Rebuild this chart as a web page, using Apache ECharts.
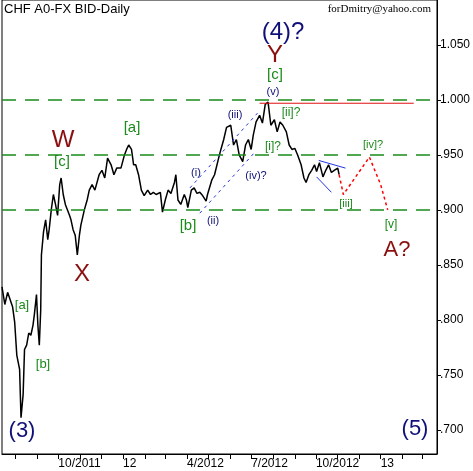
<!DOCTYPE html>
<html><head><meta charset="utf-8">
<script src="https://cdn.jsdelivr.net/npm/echarts@6/dist/echarts.min.js"></script>
<style>html,body{margin:0;padding:0;background:#fff}#c{width:473px;height:471px}</style>
</head><body><div id="c"></div>
<script>
// price path (date, bid)
var dates = ['2011-07-13','2011-07-17','2011-07-21','2011-07-28','2011-07-31','2011-08-03','2011-08-07','2011-08-09','2011-08-12','2011-08-14',
 '2011-08-17','2011-08-20','2011-08-23','2011-08-26','2011-08-28','2011-08-31','2011-09-02','2011-09-04','2011-09-06','2011-09-07',
 '2011-09-10','2011-09-13','2011-09-16','2011-09-18','2011-09-21','2011-09-24','2011-09-27','2011-09-30','2011-10-03','2011-10-05',
 '2011-10-08','2011-10-11','2011-10-14','2011-10-17','2011-10-19','2011-10-22','2011-10-25','2011-10-28','2011-10-31','2011-11-02',
 '2011-11-07','2011-11-11','2011-11-14','2011-11-18','2011-11-22','2011-11-28','2011-12-02','2011-12-06','2011-12-10','2011-12-15',
 '2011-12-19','2011-12-23','2011-12-29','2012-01-03','2012-01-06','2012-01-09','2012-01-13','2012-01-16','2012-01-19','2012-01-23',
 '2012-01-27','2012-01-31','2012-02-05','2012-02-09','2012-02-13','2012-02-17','2012-02-23','2012-02-26','2012-03-01','2012-03-05',
 '2012-03-09','2012-03-14','2012-03-16','2012-03-19','2012-03-23','2012-03-28','2012-03-31','2012-04-02','2012-04-07','2012-04-11',
 '2012-04-15','2012-04-19','2012-04-23','2012-04-28','2012-04-30','2012-05-06','2012-05-10','2012-05-15','2012-05-19','2012-05-23',
 '2012-05-27','2012-06-02','2012-06-06','2012-06-10','2012-06-14','2012-06-19','2012-06-23','2012-06-27','2012-07-01','2012-07-04',
 '2012-07-08','2012-07-13','2012-07-17','2012-07-21','2012-07-25','2012-07-29','2012-08-03','2012-08-07','2012-08-11','2012-08-15',
 '2012-08-20','2012-08-24','2012-08-28','2012-09-01','2012-09-05','2012-09-10','2012-09-14','2012-09-17','2012-09-21','2012-09-25',
 '2012-09-29','2012-10-02','2012-10-06','2012-10-11','2012-10-15','2012-10-19','2012-10-23','2012-10-27','2012-11-01','2012-11-03'];
var prices = [.830,.814,.825,.812,.798,.768,.755,.711,.732,.773,
 .777,.788,.786,.795,.805,.823,.795,.777,.809,.859,
 .880,.891,.873,.882,.900,.914,.905,.895,.923,.929,
 .914,.905,.900,.895,.891,.882,.877,.859,.877,.886,
 .900,.909,.918,.923,.918,.932,.936,.929,.947,.941,
 .932,.938,.938,.950,.955,.959,.955,.941,.941,.932,
 .918,.913,.918,.914,.916,.914,.916,.898,.909,.918,
 .915,.925,.932,.909,.905,.914,.909,.902,.918,.920,
 .915,.916,.913,.908,.914,.927,.932,.945,.955,.964,
 .975,.977,.959,.964,.950,.944,.959,.964,.955,.968,
 .980,.986,.979,.996,.998,.977,.982,.971,.980,.977,
 .971,.959,.955,.956,.950,.941,.929,.925,.932,.936,
 .941,.935,.943,.930,.936,.941,.934,.936,.938,.932];

var levels = [1.00, .95, .90];
var yTicks = [.70,.75,.80,.85,.90,.95,1.00,1.05];
var monthTicks = ['2011-08-01','2011-09-01','2011-10-01','2011-11-01','2011-12-01','2012-01-01','2012-02-01','2012-03-01',
 '2012-04-01','2012-05-01','2012-06-01','2012-07-01','2012-08-01','2012-09-01','2012-10-01','2012-11-01','2012-12-01',
 '2013-01-01','2013-02-01','2013-03-01'];
var monthLabels = {'2011-10-01':'10/2011','2012-01-01':'12','2012-04-01':'4/2012','2012-07-01':'7/2012','2012-10-01':'10/2012','2013-01-01':'13'};

var channelUp = [['2012-04-05',.920],['2012-07-10',.988]];
var channelLo = [['2012-04-19',.897],['2012-07-07',.953]];
var triUp = [['2012-10-05',.945],['2012-11-12',.938]];
var triLo = [['2012-10-02',.930],['2012-10-23',.916]];
var topLine = [['2012-07-13',.997],['2013-02-17',.997]];
var forecast = [['2012-11-03',.932],['2012-11-09',.914],['2012-12-16',.948],['2013-01-01',.923],['2013-01-11',.900]];

var ts = function(s){ return +new Date(s + 'T00:00:00Z'); };
var pts = function(a){ return a.map(function(p){ return [ts(p[0]), p[1]]; }); };

var GREEN = '#1a8a1a', NAVY = '#10107a', RED = '#8b0f0f';
var labels = [
 ['(4)?',283,32,24,NAVY],['Y',275,55,24,RED],['[c]',275,75,15,GREEN],['(v)',273,92,11,NAVY],
 ['[ii]?',291,113,12,GREEN],['(iii)',235,115,11,NAVY],['[a]',132,128,15,GREEN],['W',63,140,24,RED],
 ['[c]',62,162,15,GREEN],['[i]?',273,147,12,GREEN],['[iv]?',373,145,11,GREEN],['(i)',196,173,11,NAVY],
 ['(iv)?',256,176,11,NAVY],['[b]',188,226,15,GREEN],['(ii)',213,221,11,NAVY],['[iii]',346,204,11,GREEN],
 ['[v]',391,225,12,GREEN],['A?',397,250,22,RED],['X',82,274,24,RED],['[a]',22,305,13,GREEN],
 ['[b]',43,364,13,GREEN],['(3)',22,431,22,NAVY],['(5)',415,429,22,NAVY]
];

var chart = echarts.init(document.getElementById('c'));
chart.setOption({
  animation: false,
  grid: {left: 2, right: 31, top: 0, bottom: 17, show: true, borderColor: '#000', borderWidth: 1},
  xAxis: {
    type: 'value', min: ts('2011-07-13'), max: ts('2013-03-22'),
    axisLine: {lineStyle: {color: '#000'}}, splitLine: {show: false},
    axisTick: {length: 5, lineStyle: {color: '#000'}, customValues: monthTicks.map(ts)},
    axisLabel: {customValues: Object.keys(monthLabels).map(ts), align: 'left', margin: 4,
      color: '#000', fontFamily: 'Arial', fontSize: 12,
      formatter: function(v){ var k = new Date(v).toISOString().slice(0,10); return monthLabels[k] || ''; }}
  },
  yAxis: {
    type: 'value', position: 'right', min: 0.678, max: 1.0909,
    axisLine: {show: true, lineStyle: {color: '#000'}}, splitLine: {show: false},
    axisTick: {show: true, inside: false, length: 4, lineStyle: {color: '#000'}, customValues: yTicks},
    axisLabel: {customValues: yTicks, margin: 3, color: '#000', fontFamily: 'Arial', fontSize: 12,
      formatter: function(v){ return v >= 1 ? v.toFixed(3) : v.toFixed(3).slice(1); }}
  },
  series: [
    {type: 'line', symbol: 'none', data: dates.map(function(d,i){ return [ts(d), prices[i]]; }),
     lineStyle: {color: '#000', width: 1.5},
     markLine: {silent: true, symbol: 'none', label: {show: false},
       lineStyle: {color: GREEN, type: [14, 9], width: 1.5},
       data: levels.map(function(l){ return {yAxis: l}; })}},
    {type: 'line', symbol: 'none', data: pts(channelUp), lineStyle: {color: '#2233dd', width: 1, type: [3,4]}},
    {type: 'line', symbol: 'none', data: pts(channelLo), lineStyle: {color: '#2233dd', width: 1, type: [3,4]}},
    {type: 'line', symbol: 'none', data: pts(triUp), lineStyle: {color: '#2233dd', width: 1}},
    {type: 'line', symbol: 'none', data: pts(triLo), lineStyle: {color: '#2233dd', width: 1}},
    {type: 'line', symbol: 'none', data: pts(topLine), lineStyle: {color: '#e01010', width: 1}},
    {type: 'line', symbol: 'none', data: pts(forecast), lineStyle: {color: '#ff0000', width: 1.5, type: [3,3]}}
  ],
  graphic: [
    {type: 'text', left: 4, top: 3, style: {text: 'CHF A0-FX BID-Daily', font: '13px Arial', fill: '#000'}},
    {type: 'text', right: 42, top: 4, style: {text: 'forDmitry@yahoo.com', font: '11px "Liberation Serif"', fill: '#000'}}
  ].concat(labels.map(function(l){
    return {type: 'text', x: l[1], y: l[2], style: {text: l[0], font: l[3] + 'px Arial', fill: l[4], align: 'center', verticalAlign: 'middle'}};
  }))
});
</script></body></html>
